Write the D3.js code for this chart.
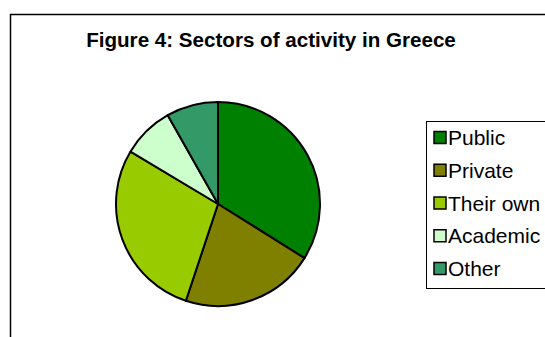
<!DOCTYPE html>
<html>
<head>
<meta charset="utf-8">
<script src="https://cdn.jsdelivr.net/npm/d3@7"></script>
<style>
  html, body { margin: 0; padding: 0; background: #fff; }
  svg { display: block; }
  text { font-family: "Liberation Sans", Arial, sans-serif; }
</style>
</head>
<body>
<div id="chart"></div>
<script>
const WIDTH = 545;
const HEIGHT = 337;

const title = "Figure 4: Sectors of activity in Greece";
const sectors = ["Public", "Private", "Their own", "Academic", "Other"];
const shares = [33.9, 21.2, 28.5, 8.2, 8.2];
const sectorColors = ["#008000", "#808000", "#99cc00", "#ccffcc", "#339966"];

const data = sectors.map((name, i) => ({ name, value: shares[i] }));

const svg = d3.select("#chart").append("svg")
	.attr("width", WIDTH)
	.attr("height", HEIGHT);

// chart frame, runs off the right and bottom edges
svg.append("rect")
	.attr("x", 10.5)
	.attr("y", 14.5)
	.attr("width", 600)
	.attr("height", 400)
	.attr("fill", "#fff")
	.attr("stroke", "#000")
	.attr("stroke-width", 1.5);

svg.append("text")
	.attr("x", 271)
	.attr("y", 47)
	.attr("text-anchor", "middle")
	.attr("font-size", 20.6)
	.attr("font-weight", "bold")
	.text(title);

const color = d3.scaleOrdinal()
	.domain(sectors)
	.range(sectorColors);

const radius = 102;
const pie = d3.pie()
	.sort(null)
	.value(d => d.value);
const arc = d3.arc()
	.innerRadius(0)
	.outerRadius(radius);

const g = svg.append("g")
	.attr("transform", "translate(218,204)");

g.selectAll("path")
	.data(pie(data))
	.enter()
	.append("path")
	.attr("d", arc)
	.attr("fill", d => color(d.data.name))
	.attr("stroke", "#000")
	.attr("stroke-width", 2)
	.attr("stroke-linejoin", "round");

// legend
const legend = svg.append("g")
	.attr("transform", "translate(426,121)");

legend.append("rect")
	.attr("x", 0.5)
	.attr("y", 0.5)
	.attr("width", 200)
	.attr("height", 167)
	.attr("fill", "#fff")
	.attr("stroke", "#000")
	.attr("stroke-width", 1);

const rowY = d3.scalePoint()
	.domain(sectors)
	.range([16.5, 147.5]);

const items = legend.selectAll(".item")
	.data(sectors)
	.enter()
	.append("g")
	.attr("class", "item")
	.attr("transform", d => `translate(0,${rowY(d)})`);

items.append("rect")
	.attr("x", 8)
	.attr("y", -6)
	.attr("width", 12)
	.attr("height", 12)
	.attr("fill", d => color(d))
	.attr("stroke", "#000")
	.attr("stroke-width", 1.5);

items.append("text")
	.attr("x", 22)
	.attr("y", 7.5)
	.attr("font-size", 21)
	.text(d => d);
</script>
</body>
</html>
